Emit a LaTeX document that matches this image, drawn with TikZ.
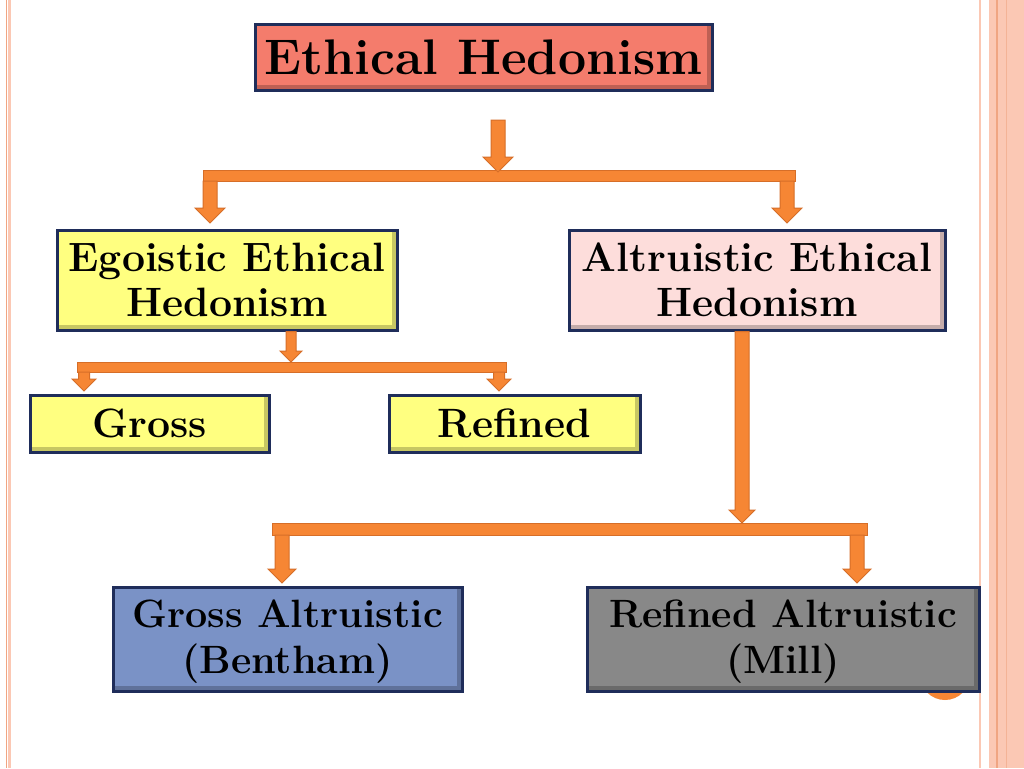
\documentclass[tikz,border=0pt]{standalone}
\usepackage{fontspec}
\usetikzlibrary{calc}
\definecolor{navy}{RGB}{31,45,90}
\definecolor{salmon}{RGB}{244,124,108}
\definecolor{paleyellow}{RGB}{255,255,128}
\definecolor{palepink}{RGB}{253,221,219}
\definecolor{steelblue}{RGB}{122,146,198}
\definecolor{midgray}{RGB}{136,136,136}
\definecolor{arrfill}{RGB}{246,134,52}
\definecolor{arrline}{RGB}{214,110,40}
\definecolor{edgepink}{RGB}{251,200,180}
\definecolor{edgeline}{RGB}{240,165,130}

\tikzset{
  box/.style={draw=navy,line width=3pt,align=center,inner sep=0pt,font=\bfseries\fontsize{41}{45}\selectfont,
    path picture={\fill[black,opacity=.22] (path picture bounding box.south west) -- (path picture bounding box.south east) -- (path picture bounding box.north east) -- ([xshift=-5pt]path picture bounding box.north east) -- ([xshift=-5pt,yshift=5pt]path picture bounding box.south east) -- ([yshift=5pt]path picture bounding box.south west) -- cycle;}},
  lowbox/.style={box,font=\bfseries\fontsize{39.5}{46}\selectfont,text depth=4pt},
  arr/.style={fill=arrfill,draw=arrline,line width=1pt,line join=miter},
}
\newcommand\dnarrow[4]{%
  \path[arr] let \p1=#3, \p2=#4 in
    (\x1-#1pt,\y1) -- (\x1-#1pt,\y2+#2pt) -- (\x1-#2pt,\y2+#2pt) -- (\x1,\y2)
    -- (\x1+#2pt,\y2+#2pt) -- (\x1+#1pt,\y2+#2pt) -- (\x1+#1pt,\y1) -- cycle;}

\begin{document}
\begin{tikzpicture}[x=1pt,y=-1pt]
           \useasboundingbox (0,0) rectangle (1024,768);
           \fill[white] (0,0) rectangle (1024,768);
           \draw[edgeline,line width=1pt] (6,0) -- (6,768);
           \fill[edgepink] (7.5,0) rectangle (11,768);
           \fill[edgepink] (979,0) rectangle (981,768);
           \fill[edgepink] (989,0) rectangle (1024,768);
           \draw[edgeline,line width=1.2pt] (997,0) -- (997,768);
           \draw[edgeline!60!edgepink,line width=1pt] (1006,0) -- (1006,768);
           \fill[arrfill] (945,675) circle (25);

           \node[box,fill=salmon,minimum width=457pt,minimum height=65pt,font=\bfseries\fontsize{50}{54}\selectfont] (eh) at (483.5,57.5) {Ethical Hedonism};
           \node[box,fill=paleyellow,minimum width=340pt,minimum height=100pt] (ego) at (227,280) {Egoistic Ethical\\Hedonism};
           \node[box,fill=palepink,minimum width=376pt,minimum height=100pt] (alt) at (757,280) {Altruistic Ethical\\Hedonism};
           \node[box,fill=paleyellow,minimum width=239pt,minimum height=57pt] (gross) at (149.5,423.5) {Gross};
           \node[box,fill=paleyellow,minimum width=251pt,minimum height=57pt] (refined) at (514.5,423.5) {Refined};
           \node[lowbox,fill=steelblue,minimum width=349pt,minimum height=104pt] (galt) at (287.5,639) {Gross Altruistic\\(Bentham)};
           \node[lowbox,fill=midgray,minimum width=392pt,minimum height=104pt] (ralt) at (783,639) {Refined Altruistic\\(Mill)};

           \coordinate (top) at (498,120);
           \coordinate (topend) at (498,172);
           \coordinate (egol) at (210,181);
           \coordinate (egolend) at (210,223);
           \coordinate (altr) at (787,181);
           \coordinate (altrend) at (787,223);
           \path[arr] (203,170) rectangle (795,181);
           \dnarrow{7}{15}{(top)}{(topend)}
           \dnarrow{7}{15}{(egol)}{(egolend)}
           \dnarrow{7}{15}{(altr)}{(altrend)}

           \coordinate (egosplit) at (ego.south -| 291,0);
           \coordinate (egosplitend) at (291,362);
           \coordinate (grossin) at (84,372);
           \coordinate (grossend) at (84,391);
           \coordinate (refin) at (499,372);
           \coordinate (refend) at (499,391);
           \path[arr] (77,362) rectangle (506,372);
           \dnarrow{5}{11}{(egosplit)}{(egosplitend)}
           \dnarrow{5.5}{12}{(grossin)}{(grossend)}
           \dnarrow{5.5}{12}{(refin)}{(refend)}

           \coordinate (altsplit) at (alt.south -| 742,0);
           \coordinate (altsplitend) at (742,523);
           \coordinate (galtin) at (282,535);
           \coordinate (galtend) at (282,583);
           \coordinate (raltin) at (857,535);
           \coordinate (raltend) at (857,583);
           \path[arr] (272,523) rectangle (867,535);
           \dnarrow{7}{13}{(altsplit)}{(altsplitend)}
           \dnarrow{7}{14}{(galtin)}{(galtend)}
           \dnarrow{7}{14}{(raltin)}{(raltend)}
        \end{tikzpicture}
\end{document}
